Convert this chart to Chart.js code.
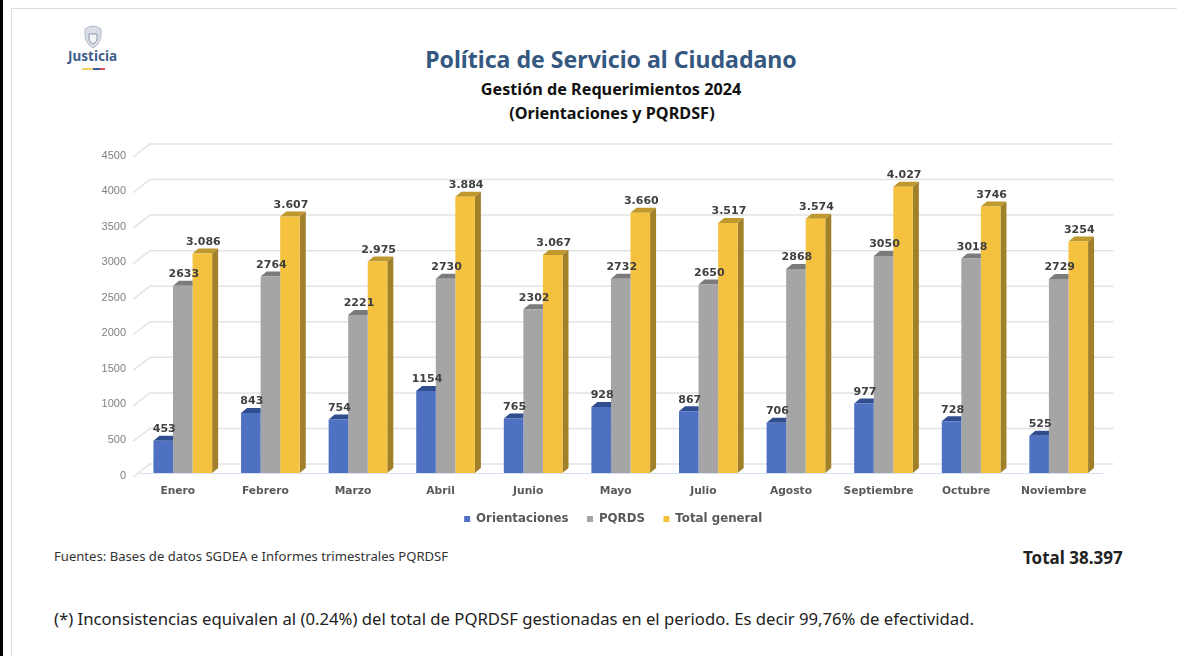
<!DOCTYPE html>
<html lang="es">
<head>
<meta charset="utf-8">
<title>Política de Servicio al Ciudadano</title>
<script src="https://cdn.jsdelivr.net/npm/chart.js@4"></script>
<style>
  html, body { margin: 0; padding: 0; background: #fff; }
  body { width: 1177px; height: 656px; position: relative; overflow: hidden; font-family: "Noto Sans", sans-serif; }
  .abs { position: absolute; white-space: nowrap; line-height: 1; }
  .bar-left { position: absolute; left: 0; top: 0; width: 3px; height: 656px; background: #000; }
  .frame { position: absolute; left: 11px; top: 8px; width: 1166px; height: 648px; border-left: 1px solid #ddd; border-top: 1px solid #ddd; box-sizing: border-box; }
  #wrap { position: absolute; left: 0; top: 130px; width: 1177px; height: 409px; }
  .center { left: 311px; width: 600px; text-align: center; }
</style>
</head>
<body>
<div class="bar-left"></div>
<div class="frame"></div>

<svg class="abs" style="left:83px;top:25px" width="20" height="24" viewBox="0 0 20 24">
  <path d="M2 4 Q10 -2 18 4 L18 11 Q17 19 10 23 Q3 19 2 11 Z" fill="#d9dee5" stroke="#b4bcc8" stroke-width="1"/>
  <path d="M6 9 H14 V14 Q14 17 10 19 Q6 17 6 14 Z" fill="#f4f5f7" stroke="#8c99ab" stroke-width="1"/>
</svg>
<div class="abs" style="left:68px;top:50px;font-size:13.5px;font-weight:700;color:#3f5d8a">Justicia</div>
<svg class="abs" style="left:82px;top:68px" width="23" height="2">
  <rect x="0" y="0" width="11" height="2" fill="#f2cf63"/>
  <rect x="11" y="0" width="7" height="2" fill="#3f5d9a"/>
  <rect x="18" y="0" width="5" height="2" fill="#d8505a"/>
</svg>

<div class="abs center" style="top:48px;font-size:23.1px;font-weight:700;color:#34587f">Política de Servicio al Ciudadano</div>
<div class="abs center" style="top:81px;font-size:16.2px;font-weight:700;color:#111">Gestión de Requerimientos 2024</div>
<div class="abs center" style="top:105px;font-size:16.2px;font-weight:700;color:#111;left:312px">(Orientaciones y PQRDSF)</div>

<div id="wrap"><canvas id="chart"></canvas></div>

<div class="abs" style="left:54px;top:550px;font-size:13.1px;color:#333">Fuentes: Bases de datos SGDEA e Informes trimestrales PQRDSF</div>
<div class="abs" style="left:1023px;top:549px;font-size:17px;font-weight:700;color:#222">Total 38.397</div>
<div class="abs" style="left:54px;top:611px;font-size:16.7px;color:#222">(*) Inconsistencias equivalen al (0.24%) del total de PQRDSF gestionadas en el periodo. Es decir 99,76% de efectividad.</div>

<script>
// --- Data ---
const months = ['Enero', 'Febrero', 'Marzo', 'Abril', 'Junio', 'Mayo', 'Julio', 'Agosto', 'Septiembre', 'Octubre', 'Noviembre'];
const orientaciones = [453, 843, 754, 1154, 765, 928, 867, 706, 977, 728, 525];
const pqrds = [2633, 2764, 2221, 2730, 2302, 2732, 2650, 2868, 3050, 3018, 2729];
const totalGeneral = [3086, 3607, 2975, 3884, 3067, 3660, 3517, 3574, 4027, 3746, 3254];
// the source writes the last two totals without the dot
const totalLabels = ['3.086', '3.607', '2.975', '3.884', '3.067', '3.660', '3.517', '3.574', '4.027', '3746', '3254'];
const yMax = 4500;
const yStep = 500;

// --- Fake 3D look ---
const topColors = ['#2f4d8f', '#7b7b7b', '#bf982e'];
const sideColor = '#a08029';
const depthX = 6, depthY = 5;

const grid3d = {
  id: 'grid3d',
  beforeDatasetsDraw(chart) {
    const { ctx, chartArea, scales } = chart;
    ctx.save();
    ctx.strokeStyle = '#e3e3e3';
    ctx.lineWidth = 1.5;
    scales.y.ticks.forEach(t => {
      const y = scales.y.getPixelForValue(t.value);
      ctx.beginPath();
      ctx.moveTo(chartArea.left - 6, y + 4);
      ctx.lineTo(chartArea.left + 11, y - 9);
      ctx.lineTo(chartArea.right + 11, y - 9);
      ctx.stroke();
    });
    ctx.restore();
  }
};

// blue and gray tops stop at the next (taller) bar, only the yellow one gets a side
const bars3d = {
  id: 'bars3d',
  beforeDatasetDraw(chart, args) {
    const { ctx } = chart;
    const last = args.index === 2;
    ctx.save();
    args.meta.data.forEach(bar => {
      const x0 = bar.x - bar.width / 2, x1 = bar.x + bar.width / 2;
      ctx.fillStyle = topColors[args.index];
      ctx.beginPath();
      ctx.moveTo(x0, bar.y);
      ctx.lineTo(x0 + depthX, bar.y - depthY);
      ctx.lineTo(last ? x1 + depthX : x1, bar.y - depthY);
      ctx.lineTo(x1, bar.y);
      ctx.fill();
      if (last) {
        ctx.fillStyle = sideColor;
        ctx.beginPath();
        ctx.moveTo(x1, bar.y);
        ctx.lineTo(x1 + depthX, bar.y - depthY);
        ctx.lineTo(x1 + depthX, bar.base - depthY);
        ctx.lineTo(x1, bar.base);
        ctx.fill();
      }
    });
    ctx.restore();
  }
};

const valueLabels = {
  id: 'valueLabels',
  afterDatasetsDraw(chart) {
    const { ctx } = chart;
    ctx.save();
    ctx.font = 'bold 11px "DejaVu Sans"';
    ctx.fillStyle = '#404040';
    ctx.textAlign = 'center';
    ctx.textBaseline = 'middle';
    chart.data.datasets.forEach((ds, i) => {
      chart.getDatasetMeta(i).data.forEach((bar, j) => {
        const text = i === 2 ? totalLabels[j] : String(ds.data[j]);
        ctx.fillText(text, bar.x + 1, bar.y - 11.5);
      });
    });
    ctx.restore();
  }
};

// the legend sits right of the canvas middle in the source, and close under the month labels
const legendShift = {
  id: 'legendShift',
  afterLayout(chart) {
    chart.legend.left += 62;
    chart.legend.right += 62;
    chart.legend.top -= 4;
    chart.legend.bottom -= 4;
  }
};

// --- Chart ---
new Chart(document.getElementById('chart'), {
  type: 'bar',
  data: {
    labels: months,
    datasets: [
      { label: 'Orientaciones', data: orientaciones, backgroundColor: '#4e71c2' },
      { label: 'PQRDS', data: pqrds, backgroundColor: '#a5a5a5' },
      { label: 'Total general', data: totalGeneral, backgroundColor: '#f4c23f' }
    ]
  },
  options: {
    responsive: true,
    maintainAspectRatio: false,
    animation: false,
    datasets: { bar: { categoryPercentage: 0.67, barPercentage: 1 } },
    layout: { padding: { left: 0, right: 74.5, top: 23, bottom: 0 } },
    plugins: {
      tooltip: { enabled: false },
      legend: {
        position: 'bottom',
        labels: {
          boxWidth: 6,
          boxHeight: 6,
          padding: 18.5,
          color: '#595959',
          font: { family: '"DejaVu Sans"', size: 11.8, weight: 'bold' }
        }
      }
    },
    scales: {
      x: {
        grid: { display: false, drawTicks: false },
        border: { display: true, color: '#d6e0f2' },
        afterFit(scale) { scale.height = 25.7; },
        ticks: {
          color: '#595959',
          padding: 12,
          labelOffset: -5,
          maxRotation: 0,
          autoSkip: false,
          font: { family: '"DejaVu Sans"', size: 10.7, weight: 'bold' }
        }
      },
      y: {
        min: 0,
        max: yMax,
        grid: { display: false, drawTicks: false },
        border: { display: false },
        afterFit(scale) { scale.width = 139; },
        ticks: {
          stepSize: yStep,
          callback: v => String(v),
          color: '#7f7f7f',
          padding: 13,
          labelOffset: 2.5,
          font: { family: '"Liberation Sans"', size: 11 }
        }
      }
    }
  },
  plugins: [grid3d, bars3d, valueLabels, legendShift]
});
</script>
</body>
</html>
